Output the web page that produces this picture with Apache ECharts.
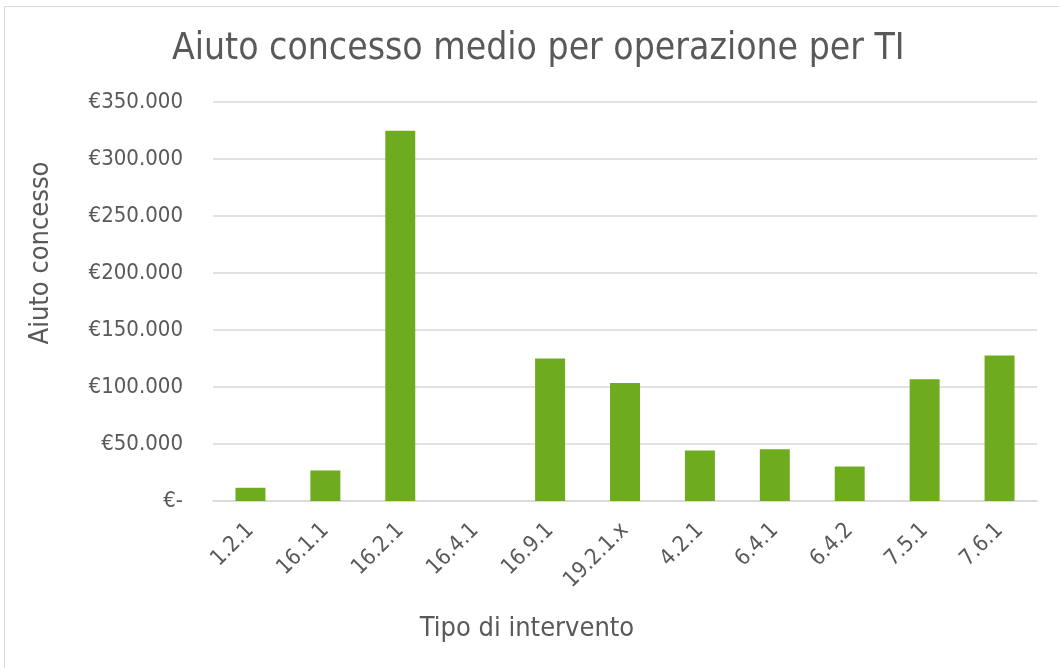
<!DOCTYPE html>
<html>
<head>
<meta charset="utf-8">
<title>Aiuto concesso medio per operazione per TI</title>
<script src="https://cdn.jsdelivr.net/npm/echarts@6/dist/echarts.min.js"></script>
<style>
  html, body { margin: 0; padding: 0; background: #fff; }
  #frame { position: absolute; left: 4px; top: 6px; width: 1100px; height: 700px;
           border: 1px solid #d9d9d9; box-sizing: border-box; }
  #chart { position: absolute; left: 0; top: 0; width: 1059px; height: 668px; }
</style>
</head>
<body>
<div id="frame"></div>
<div id="chart"></div>
<script>
// Tipo di intervento (TI)
const categories = ['1.2.1', '16.1.1', '16.2.1', '16.4.1', '16.9.1', '19.2.1.x', '4.2.1', '6.4.1', '6.4.2', '7.5.1', '7.6.1'];
// Aiuto concesso medio per operazione (€)
const aiutoMedio = [11600, 26800, 324700, 0, 125000, 103500, 44400, 45300, 30300, 106800, 127600];
// Y axis range
const yMin = 0;
const yMax = 350000;
const yStep = 50000;

const FONT = 'DejaVu Sans Condensed';
const TEXT = '#595959';

function euro(v) {
  if (v === 0) return '€-';
  return '€' + String(v).replace(/\B(?=(\d{3})+(?!\d))/g, '.');
}

const chart = echarts.init(document.getElementById('chart'), null, { renderer: 'canvas' });
chart.setOption({
  animation: false,
  textStyle: { fontFamily: FONT, color: TEXT },
  title: {
    text: 'Aiuto concesso medio per operazione per TI',
    left: 172,
    top: 31,
    padding: 0,
    textStyle: { fontFamily: FONT, fontSize: 37, fontWeight: 'normal', color: TEXT }
  },
  grid: { left: 213, right: 22, top: 102, bottom: 167 },
  xAxis: {
    type: 'category',
    data: categories,
    axisLine: { show: true, lineStyle: { color: '#d9d9d9', width: 1.5 } },
    axisTick: { show: false },
    axisLabel: { rotate: 45, fontFamily: FONT, fontSize: 22, color: TEXT, margin: 26, interval: 0 }
  },
  yAxis: {
    type: 'value',
    min: yMin,
    max: yMax,
    interval: yStep,
    axisLine: { show: false },
    axisTick: { show: false },
    axisLabel: { fontFamily: FONT, fontSize: 22, color: TEXT, margin: 30, formatter: euro },
    splitLine: { lineStyle: { color: '#d9d9d9', width: 1.5 } }
  },
  // axis titles
  graphic: [
    {
      type: 'text',
      x: 527, y: 629,
      style: { text: 'Tipo di intervento', font: '27px "DejaVu Sans Condensed"', fill: TEXT,
               textAlign: 'center', textVerticalAlign: 'middle' }
    },
    {
      type: 'text',
      x: 41, y: 253,
      rotation: Math.PI / 2,
      style: { text: 'Aiuto concesso', font: '27px "DejaVu Sans Condensed"', fill: TEXT,
               textAlign: 'center', textVerticalAlign: 'middle' }
    }
  ],
  series: [{
    type: 'bar',
    data: aiutoMedio,
    barWidth: '40%',
    itemStyle: { color: '#6eab1e' }
  }]
});
</script>
</body>
</html>
